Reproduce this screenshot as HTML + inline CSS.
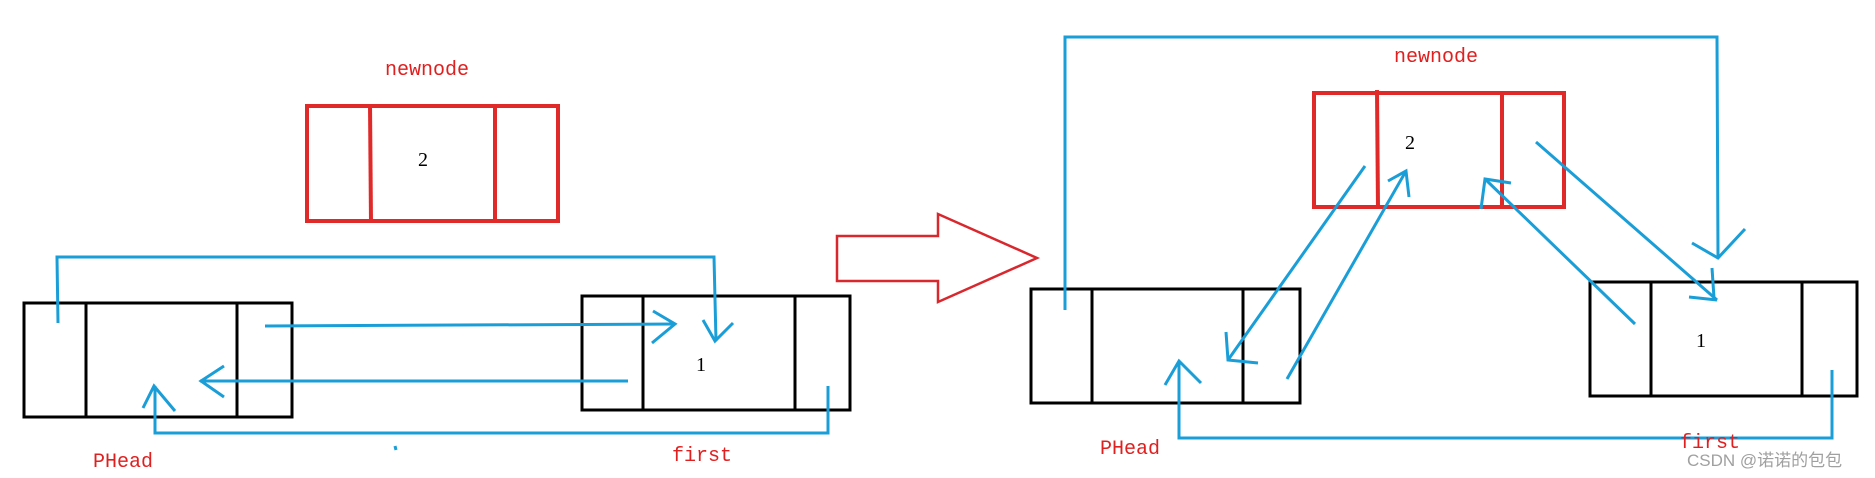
<!DOCTYPE html>
<html><head><meta charset="utf-8"><style>
html,body{margin:0;padding:0;background:#fff;}
svg{display:block;}
.lbl{font-family:"Liberation Mono",monospace;font-size:20px;fill:#e02020;}
.num{font-family:"Liberation Serif",serif;font-size:20px;fill:#000;}
</style></head><body>
<svg width="1875" height="478" viewBox="0 0 1875 478" xmlns="http://www.w3.org/2000/svg">
<g fill="none" stroke-linecap="butt">
<!-- left side -->
<g stroke="#e02a2a" stroke-width="4">
<rect x="307" y="106" width="251" height="115"/>
<line x1="370" y1="104" x2="371" y2="223"/>
<line x1="495" y1="106" x2="495" y2="223"/>
</g>
<g stroke="#000" stroke-width="3">
<rect x="24" y="303" width="268" height="114"/>
<line x1="86" y1="303" x2="86" y2="417"/>
<line x1="237" y1="303" x2="237" y2="417"/>
<rect x="582" y="296" width="268" height="114"/>
<line x1="643" y1="296" x2="643" y2="410"/>
<line x1="795" y1="296" x2="795" y2="410"/>
</g>
<g stroke="#1a9ed8" stroke-width="3">
<polyline points="58,323 57,257 714,257 716,341"/>
<polyline points="703,320 715,341 733,323"/>
<line x1="265" y1="326" x2="675" y2="324"/>
<polyline points="653,311 675,324 652,343"/>
<line x1="628" y1="381" x2="200" y2="381"/>
<polyline points="224,366 201,381 224,397"/>
<polyline points="828,386 828,433 155,433 155,386"/>
<polyline points="143,408 154,386 175,411"/>
<line x1="395" y1="446" x2="396" y2="450"/>
</g>
<!-- big arrow -->
<polygon points="837,236 938,236 938,214 1037,258 938,302 938,281 837,281" stroke="#d8282e" stroke-width="2.5"/>
<!-- right side -->
<g stroke="#e02a2a" stroke-width="4">
<rect x="1314" y="93" width="250" height="114"/>
<line x1="1377" y1="90" x2="1378" y2="209"/>
<line x1="1502" y1="93" x2="1502" y2="209"/>
</g>
<g stroke="#000" stroke-width="3">
<rect x="1031" y="289" width="269" height="114"/>
<line x1="1092" y1="289" x2="1092" y2="403"/>
<line x1="1243" y1="289" x2="1243" y2="403"/>
<rect x="1590" y="282" width="267" height="114"/>
<line x1="1651" y1="282" x2="1651" y2="396"/>
<line x1="1802" y1="282" x2="1802" y2="396"/>
</g>
<g stroke="#1a9ed8" stroke-width="3">
<polyline points="1065,310 1065,37 1717,37 1718,258"/>
<polyline points="1692,243 1718,258 1745,229"/>
<line x1="1365" y1="166" x2="1228" y2="360"/>
<polyline points="1226,332 1228,360 1258,363"/>
<line x1="1287" y1="379" x2="1406" y2="171"/>
<polyline points="1388,181 1406,171 1409,197"/>
<line x1="1635" y1="324" x2="1485" y2="179"/>
<polyline points="1481,209 1485,179 1511,183"/>
<line x1="1536" y1="142" x2="1717" y2="300"/>
<polyline points="1689,297 1717,300"/>
<line x1="1712" y1="268" x2="1714" y2="298"/>
<polyline points="1832,370 1832,438 1179,438 1179,362"/>
<polyline points="1165,385 1179,361 1201,383"/>
</g>
</g>
<text class="lbl" x="427" y="75" text-anchor="middle">newnode</text>
<text class="num" x="423" y="166" text-anchor="middle">2</text>
<text class="num" x="701" y="371" text-anchor="middle">1</text>
<text class="lbl" x="123" y="467" text-anchor="middle">PHead</text>
<text class="lbl" x="702" y="461" text-anchor="middle">first</text>
<text class="lbl" x="1436" y="62" text-anchor="middle">newnode</text>
<text class="num" x="1410" y="149" text-anchor="middle">2</text>
<text class="num" x="1701" y="347" text-anchor="middle">1</text>
<text class="lbl" x="1130" y="454" text-anchor="middle">PHead</text>
<text class="lbl" x="1710" y="448" text-anchor="middle">first</text>
<text x="1687" y="466" font-family="Liberation Sans,'Noto Sans CJK SC',sans-serif" font-size="17" fill="#a0a0a0">CSDN @诺诺的包包</text>
</svg>
</body></html>
